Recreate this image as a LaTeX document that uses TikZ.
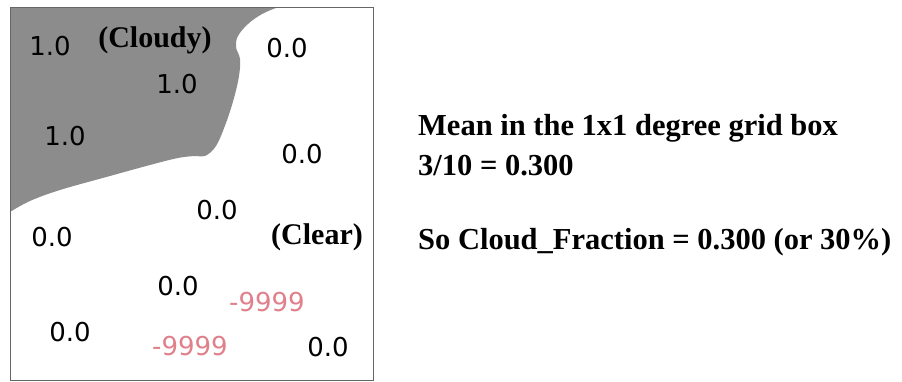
\documentclass[tikz,border=0pt]{standalone}
\usepackage{fontspec}
\setmainfont{Liberation Serif}
\newfontfamily\valfont{DejaVu Sans}
\definecolor{cloudgray}{RGB}{140,140,140}
\definecolor{fillpink}{RGB}{224,128,138}
\begin{document}
\begin{tikzpicture}[x=1pt, y=-1pt,
    val/.style={font=\valfont\fontsize{26}{30}\selectfont, inner sep=0pt},
    missing/.style={val, text=fillpink},
    tag/.style={font=\bfseries\fontsize{30}{34}\selectfont, inner sep=0pt},
    note/.style={font=\bfseries\fontsize{30.5}{40}\selectfont, anchor=west, align=left, inner sep=0pt}]
    \useasboundingbox (0,0) rectangle (902,382);

    % Cloud
    \fill[cloudgray] (10,8) -- plot[smooth, tension=0.6] coordinates {
        (276,8) (262,14) (248,24) (238,36) (236,47) (240,59) (239,76)
        (234,98) (226,123) (216,146) (205,156) (195,156) (178,158)
        (150,165) (110,176) (60,190) (30,201) (10,212)} -- cycle;

    % Grid box
    \draw[black!60, line width=1pt] (10,8) rectangle (373,380);

    % Pixel values
    \node[val] (c1) at (50,46) {1.0};
    \node[val] (c2) at (177,84) {1.0};
    \node[val] (c3) at (65,136) {1.0};
    \node[val] (z1) at (287,48) {0.0};
    \node[val] (z2) at (302,154) {0.0};
    \node[val] (z3) at (217,210) {0.0};
    \node[val] (z4) at (52,237) {0.0};
    \node[val] (z5) at (178,286) {0.0};
    \node[val] (z6) at (70,332) {0.0};
    \node[val] (z7) at (328,347) {0.0};
    \node[missing] (m1) at (267,302) {-9999};
    \node[missing] (m2) at (190,346) {-9999};

    % Labels
    \node[tag] (cloudy) at (155,40) {(Cloudy)};
    \node[tag] (clear) at (317,237) {(Clear)};

    % Result
    \node[note] (mean) at (418,145) {Mean in the 1x1 degree grid box\\3/10 = 0.300};
    \node[note] (frac) at (418,242) {So Cloud\_Fraction = 0.300 (or 30\%)};
\end{tikzpicture}
\end{document}
